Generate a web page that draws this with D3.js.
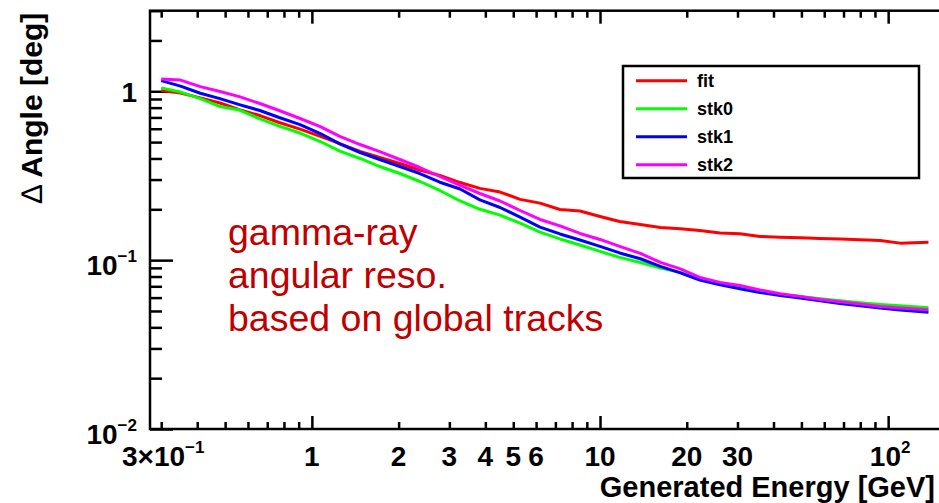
<!DOCTYPE html>
<html>
<head>
  <meta charset="utf-8">
  <title>Gamma-ray angular resolution</title>
  <script src="https://d3js.org/d3.v7.min.js"></script>
  <style>
    body { margin: 0; background: #fff; }
    svg { font-family: "Liberation Sans", Arial, Helvetica, sans-serif; }
    .curve { fill: none; stroke-width: 3px; stroke-linejoin: round; }
    .tick line { stroke: #000; stroke-width: 2.5px; }
  </style>
</head>
<body>
  <div id="chart"></div>

  <script>
    // Energies (GeV) at which the curves were read
    const energies = [0.30, 0.35, 0.41, 0.48, 0.56, 0.66, 0.77, 0.91, 1.07, 1.25,
      1.47, 1.72, 2.02, 2.37, 2.78, 3.27, 3.83, 4.50, 5.28, 6.19,
      7.26, 8.52, 10.0, 11.7, 13.8, 16.2, 19.0, 22.2, 26.1, 30.6,
      35.9, 42.2, 49.5, 58.1, 68.1, 79.9, 93.8, 110, 138];

    // Delta angle [deg] per series
    const fitVals = [1.010, 0.976, 0.914, 0.852, 0.779, 0.718, 0.653, 0.597, 0.540, 0.490,
      0.440, 0.405, 0.3735, 0.342, 0.317, 0.288, 0.266, 0.253, 0.229, 0.2175,
      0.1995, 0.1955, 0.1814, 0.1694, 0.1627, 0.1562, 0.1534, 0.1499, 0.1448, 0.1433,
      0.1381, 0.1368, 0.1357, 0.1344, 0.1332, 0.1321, 0.1308, 0.1261, 0.1278];
    const stk0Vals = [1.047, 0.989, 0.905, 0.812, 0.774, 0.687, 0.622, 0.566, 0.504, 0.4416,
      0.400, 0.3584, 0.3258, 0.2922, 0.2585, 0.224, 0.2001, 0.1846, 0.1658, 0.1464,
      0.1335, 0.1230, 0.1126, 0.1038, 0.0969, 0.0899, 0.0846, 0.0769, 0.0723, 0.0692,
      0.0657, 0.0627, 0.0610, 0.0591, 0.0575, 0.0560, 0.0547, 0.0537, 0.0523];
    const stk1Vals = [1.157, 1.073, 0.973, 0.905, 0.834, 0.769, 0.699, 0.635, 0.562, 0.4884,
      0.4337, 0.3944, 0.3584, 0.3258, 0.2894, 0.2638, 0.2274, 0.2050, 0.1799, 0.1568,
      0.1429, 0.1317, 0.1206, 0.1103, 0.1019, 0.0918, 0.0840, 0.0763, 0.0714, 0.0677,
      0.0644, 0.0618, 0.0597, 0.0574, 0.0554, 0.0536, 0.0520, 0.0507, 0.0492];
    const stk2Vals = [1.184, 1.165, 1.066, 0.996, 0.930, 0.846, 0.769, 0.690, 0.618, 0.540,
      0.4837, 0.4396, 0.3944, 0.3536, 0.3128, 0.2774, 0.2481, 0.2240, 0.1968, 0.1741,
      0.1594, 0.1439, 0.1326, 0.1206, 0.1096, 0.0969, 0.0887, 0.0790, 0.0738, 0.0708,
      0.0666, 0.0633, 0.0610, 0.0585, 0.0567, 0.0549, 0.0532, 0.0521, 0.0509];

    const seriesNames = ["fit", "stk0", "stk1", "stk2"];
    const seriesColors = ["#ff0000", "#00ff00", "#0000ff", "#ff00ff"];
    const seriesVals = [fitVals, stk0Vals, stk1Vals, stk2Vals];

    // Tick labels: base text and optional exponent
    const xTickLabels = [
      {v: 0.3, t: "3\u00d710", e: "\u22121"},
      {v: 1, t: "1"}, {v: 2, t: "2"}, {v: 3, t: "3"}, {v: 4, t: "4"},
      {v: 5, t: "5"}, {v: 6, t: "6"}, {v: 10, t: "10"}, {v: 20, t: "20"},
      {v: 30, t: "30"}, {v: 100, t: "10", e: "2"}
    ];
    const yTickLabels = [
      {v: 1, t: "1"}, {v: 0.1, t: "10", e: "\u22121"}, {v: 0.01, t: "10", e: "\u22122"}
    ];

    const noteLines = ["gamma-ray", "angular reso.", "based on global tracks"];

    const width = 939, height = 503;
    const plot = {left: 150, top: 10.7, bottom: 429, right: 943};

    const svg = d3.select("#chart")
      .append("svg")
        .attr("width", width)
        .attr("height", height);

    svg.append("rect").attr("width", width).attr("height", height).attr("fill", "#fff");

    const x = d3.scaleLog().domain([0.2743, 155]).range([plot.left, plot.right]);
    const y = d3.scaleLog().domain([0.01, 3]).range([plot.bottom, plot.top]);

    const isMajor = v => Math.abs(Math.log10(v) - Math.round(Math.log10(v))) < 1e-6;
    const xAll = x.ticks(), yAll = y.ticks();
    const xMinor = xAll.filter(v => !isMajor(v)), xMajor = xAll.filter(isMajor);
    const yMinor = yAll.filter(v => !isMajor(v)), yMajor = yAll.filter(isMajor);

    // inward ticks, ROOT style
    function addAxis(axisFn, scale, vals, size, tr) {
      const g = svg.append("g")
        .attr("transform", tr)
        .call(axisFn(scale).tickValues(vals).tickSize(-size).tickFormat(""));
      g.select(".domain").remove();
    }
    addAxis(d3.axisBottom, x, xMinor, 7, `translate(0,${plot.bottom})`);
    addAxis(d3.axisBottom, x, xMajor, 13, `translate(0,${plot.bottom})`);
    addAxis(d3.axisTop, x, xMinor, 7, `translate(0,${plot.top})`);
    addAxis(d3.axisTop, x, xMajor, 13, `translate(0,${plot.top})`);
    addAxis(d3.axisLeft, y, yMinor, 12, `translate(${plot.left},0)`);
    addAxis(d3.axisLeft, y, yMajor, 23, `translate(${plot.left},0)`);

    // curves
    const line = d3.line()
      .x((d, i) => x(energies[i]))
      .y(d => y(d));

    svg.selectAll(".curve")
      .data(seriesVals)
      .join("path")
        .attr("class", "curve")
        .attr("stroke", (d, i) => seriesColors[i])
        .attr("d", d => line(d));

    // frame
    svg.append("rect")
      .attr("x", plot.left)
      .attr("y", plot.top)
      .attr("width", plot.right - plot.left)
      .attr("height", plot.bottom - plot.top)
      .attr("fill", "none")
      .attr("stroke", "#000")
      .attr("stroke-width", 2.5);

    // x tick labels
    const xl = svg.append("g")
      .attr("font-size", 28)
      .attr("font-weight", "bold")
      .attr("text-anchor", "middle");
    xTickLabels.forEach(d => {
      const t = xl.append("text").attr("x", x(d.v) + (d.e ? 2 : 0)).attr("y", 466);
      t.append("tspan").text(d.t);
      if (d.e) t.append("tspan").attr("dy", -13).attr("font-size", 17).text(d.e);
    });

    // y tick labels
    const yl = svg.append("g")
      .attr("font-size", 28)
      .attr("font-weight", "bold")
      .attr("text-anchor", "end");
    yTickLabels.forEach(d => {
      const t = yl.append("text").attr("x", 137).attr("y", y(d.v) + (d.e ? 15 : 10.5));
      t.append("tspan").text(d.t);
      if (d.e) t.append("tspan").attr("dy", -13).attr("font-size", 17).text(d.e);
    });

    // axis titles
    svg.append("text")
      .attr("x", 935)
      .attr("y", 496.5)
      .attr("text-anchor", "end")
      .attr("font-size", 29)
      .attr("font-weight", "bold")
      .text("Generated Energy [GeV]");

    const yTitle = svg.append("text")
      .attr("transform", "translate(42,108) rotate(-90)")
      .attr("text-anchor", "middle")
      .attr("font-size", 30)
      .attr("font-weight", "bold");
    yTitle.append("tspan").attr("font-weight", "normal").text("\u2206");
    yTitle.append("tspan").text(" Angle [deg]");

    // legend
    const legend = svg.append("g");
    legend.append("rect")
      .attr("x", 623).attr("y", 66)
      .attr("width", 296).attr("height", 112)
      .attr("fill", "#fff")
      .attr("stroke", "#000")
      .attr("stroke-width", 2.5);

    seriesNames.forEach((name, i) => {
      const ly = 80.7 + i * 28;
      legend.append("line")
        .attr("x1", 636).attr("x2", 687)
        .attr("y1", ly).attr("y2", ly)
        .attr("stroke", seriesColors[i])
        .attr("stroke-width", 3);
      legend.append("text")
        .attr("x", 697)
        .attr("y", ly + 6.5)
        .attr("font-size", 18)
        .attr("font-weight", "bold")
        .text(name);
    });

    // red note
    svg.append("g")
      .attr("fill", "#c00000")
      .attr("font-size", 37.5)
      .selectAll("text")
      .data(noteLines)
      .join("text")
        .attr("x", 228)
        .attr("y", (d, i) => 245 + i * 43)
        .text(d => d);
  </script>
</body>
</html>
